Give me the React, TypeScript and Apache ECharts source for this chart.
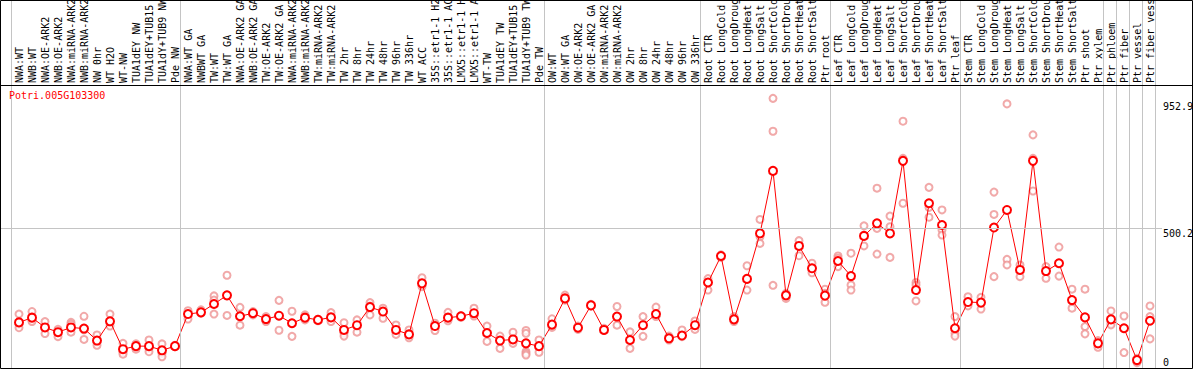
import React, { useEffect, useRef } from "react";
import * as echarts from "echarts";

const geneTitle = "Potri.005G103300";

const categories = [
  "NWA:WT", "NWB:WT", "NWA:OE-ARK2", "NWB:OE-ARK2", "NWA:miRNA-ARK2", "NWB:miRNA-ARK2", "NW 0hr", "WT H2O", "WT-NW", "TUA1dEY NW", "TUA1dEY+TUB15", "TUA1dY+TUB9 NW", "Pde NW",
  "NWA:WT GA", "NWBWT GA", "TW:WT", "TW:WT GA", "NWA:OE-ARK2 GA", "NWB:OE-ARK2 GA", "TW:OE-ARK2", "TW:OE-ARK2 GA", "NWA:miRNA-ARK2", "NWB:miRNA-ARK2", "TW:miRNA-ARK2", "TW:miRNA-ARK2",
  "TW 2hr", "TW 8hr", "TW 24hr", "TW 48hr", "TW 96hr", "TW 336hr", "WT ACC", "35S::etr1-1 H2O", "35S::etr1-1 ACC", "LMX5::etr1-1 H2O", "LMX5::etr1-1 ACC", "WT-TW", "TUA1dEY TW", "TUA1dEY+TUB15", "TUA1dY+TUB9 TW", "Pde TW",
  "OW:WT", "OW:WT GA", "OW:OE-ARK2", "OW:OE-ARK2 GA", "OW:miRNA-ARK2", "OW:miRNA-ARK2", "OW 2hr", "OW 8hr", "OW 24hr", "OW 48hr", "OW 96hr", "OW 336hr",
  "Root CTR", "Root LongCold", "Root LongDrought", "Root LongHeat", "Root LongSalt", "Root ShortCold", "Root ShortDrought", "Root ShortHeat", "Root ShortSalt", "Ptr root",
  "Leaf CTR", "Leaf LongCold", "Leaf LongDrought", "Leaf LongHeat", "Leaf LongSalt", "Leaf ShortCold", "Leaf ShortDrought", "Leaf ShortHeat", "Leaf ShortSalt", "Ptr leaf",
  "Stem CTR", "Stem LongCold", "Stem LongDrought", "Stem LongHeat", "Stem LongSalt", "Stem ShortCold", "Stem ShortDrought", "Stem ShortHeat", "Stem ShortSalt", "Ptr shoot", "Ptr xylem",
  "Ptr phloem", "Ptr fiber", "Ptr vessel", "Ptr fiber vessel",
];

const meanValues = [
  163, 180, 145, 128, 145, 141, 98, 167, 67, 78, 78, 63, 78,
  193, 199, 229, 260, 185, 196, 175, 187, 160, 180, 172, 181, 136, 153, 218, 202, 136, 120, 303, 150, 180, 185, 196, 125, 98, 102, 88, 78,
  155, 249, 144, 224, 136, 184, 100, 153, 193, 106, 116, 153,
  306, 401, 174, 319, 482, 706, 260, 437, 357, 259,
  383, 329, 473, 518, 482, 742, 279, 590, 512, 142,
  236, 234, 503, 566, 351, 742, 347, 375, 243, 181, 88,
  174, 142, 28, 169,
];

const replicateValues = [
  [193, 156, 144], [202, 172, 166], [166, 145, 123], [138, 128, 112], [163, 156, 128], [185, 136, 102], [118, 92, 81], [193, 163, 150], [88, 55, 49], [86, 74, 67], [100, 70, 58], [86, 52, 40], [81, 78, 76],
  [205, 193, 175], [208, 199, 196], [258, 243, 193], [332, 260, 188], [217, 184, 153], [202, 196, 190], [184, 169, 166], [242, 187, 135], [203, 160, 113], [190, 178, 172], [174, 172, 169], [198, 180, 166],
  [162, 124, 114], [172, 153, 128], [234, 222, 190], [214, 198, 178], [154, 136, 120], [136, 120, 108], [323, 303, 291], [160, 150, 134], [199, 180, 169], [187, 185, 181], [214, 196, 186], [150, 125, 95], [114, 98, 70], [128, 102, 88], [134, 124, 58, 52, 46], [100, 78, 56],
  [176, 155, 145], [261, 249, 243], [150, 144, 138], [228, 224, 222], [142, 136, 134], [220, 184, 153], [129, 100, 70], [184, 153, 113], [218, 193, 184], [114, 106, 100], [136, 116, 112], [168, 153, 138],
  [320, 306, 279], [405, 401, 396], [184, 174, 166], [366, 319, 279], [532, 470, 446], [966, 848, 296], [267, 260, 249], [456, 437, 402], [375, 357, 341], [282, 267, 235],
  [401, 393, 363], [411, 297, 279], [509, 473, 437], [644, 500, 408], [544, 506, 396], [884, 751, 590], [306, 297, 240], [647, 575, 540], [566, 494, 476], [184, 124, 114],
  [255, 236, 222], [253, 234, 211], [630, 550, 327], [946, 389, 369], [369, 351, 327], [835, 751, 634], [363, 347, 321], [433, 375, 329], [282, 243, 214], [282, 148, 122], [98, 88, 74],
  [204, 160, 154], [186, 55], [34, 28, 19], [222, 184, 104],
];

// groups end after these category counts (0 = before the first one)
const groupEnds = [0, 13, 41, 53, 63, 73, 84, 85, 86, 87, 88];
const yTickLabels = [500.2, 952.9];
const yZeroLabel = [0];
const gridLineValue = 500.2;

const FONT = '"DejaVu Sans Mono", monospace';

export default function App() {
  const ref = useRef<HTMLDivElement>(null);

  useEffect(() => {
    if (!ref.current) return;
    const chart = echarts.init(ref.current, undefined, { renderer: "svg" });

    const repData: number[][] = [];
    replicateValues.forEach((reps, i) => {
      reps.forEach((v) => repData.push([i + 1, v]));
    });
    const meanData = meanValues.map((v, i) => [i + 1, v]);
    const catPositions = categories.map((_, i) => i + 1);

    const option: any = {
      animation: false,
      backgroundColor: "#ffffff",
      grid: { left: 1, right: 32, top: 0, bottom: 2.1, containLabel: false, outerBoundsMode: "none" },
      xAxis: {
        type: "value",
        position: "top",
        offset: -85,
        min: -5 / 13,
        max: 1156 / 13,
        axisLine: { show: false },
        axisTick: { show: false },
        splitLine: { show: false },
        axisLabel: {
          customValues: catPositions,
          rotate: 90,
          margin: 2,
          fontFamily: FONT,
          fontSize: 10,
          color: "#000",
          hideOverlap: false,
          formatter: (v: number) => categories[Math.round(v) - 1] ?? "",
        },
      },
      yAxis: [
        {
          type: "value",
          position: "right",
          min: 0,
          max: 1318.4,
          axisLine: { show: false },
          axisTick: { show: false },
          splitLine: { show: false },
          axisLabel: {
            customValues: yTickLabels,
            margin: 1,
            align: "left",
            verticalAlign: "top",
            fontFamily: FONT,
            fontSize: 10,
            color: "#000",
            formatter: (v: number) => v.toFixed(1),
          },
        },
        {
          type: "value",
          position: "right",
          min: 0,
          max: 1318.4,
          axisLine: { show: false },
          axisTick: { show: false },
          splitLine: { show: false },
          axisLabel: {
            customValues: yZeroLabel,
            margin: 1,
            align: "left",
            verticalAlign: "bottom",
            fontFamily: FONT,
            fontSize: 10,
            color: "#000",
            formatter: (v: number) => String(v),
          },
        },
      ],
      series: [
        {
          type: "scatter",
          z: 1,
          data: repData,
          symbol: "emptyCircle",
          symbolSize: 7,
          itemStyle: { color: "#ee9494", borderColor: "#ee9494", borderWidth: 1.1 },
          silent: true,
          markLine: {
            silent: true,
            symbol: ["none", "none"],
            label: { show: false },
            lineStyle: { color: "#c4c4c4", width: 1, type: "solid" },
            data: [
              ...groupEnds.map((k) => ({ xAxis: k + 0.4 })),
              { yAxis: gridLineValue },
            ],
          },
        },
        {
          type: "line",
          z: 3,
          data: meanData,
          symbol: "emptyCircle",
          symbolSize: 8,
          lineStyle: { color: "#ff0000", width: 1 },
          itemStyle: { color: "#ff0000", borderColor: "#ff0000", borderWidth: 1.2 },
          silent: true,
        },
      ],
      graphic: [
        {
          type: "rect",
          silent: true,
          z: 100,
          shape: { x: 0.5, y: 0.5, width: 1192, height: 368 },
          style: { fill: "none", stroke: "#000", lineWidth: 1 },
        },
        {
          type: "line",
          silent: true,
          z: 100,
          shape: { x1: 0, y1: 85.5, x2: 1193, y2: 85.5 },
          style: { stroke: "#000", lineWidth: 1 },
        },
        {
          type: "text",
          silent: true,
          z: 100,
          x: 9,
          y: 90.5,
          style: { text: geneTitle, fill: "#ff0000", font: `10px ${FONT}` },
        },
      ],
    };

    chart.setOption(option);
    return () => chart.dispose();
  }, []);

  return (
    <div
      ref={ref}
      style={{ position: "absolute", left: 0, top: 0, width: 1194, height: 370, background: "#fff" }}
    />
  );
}
